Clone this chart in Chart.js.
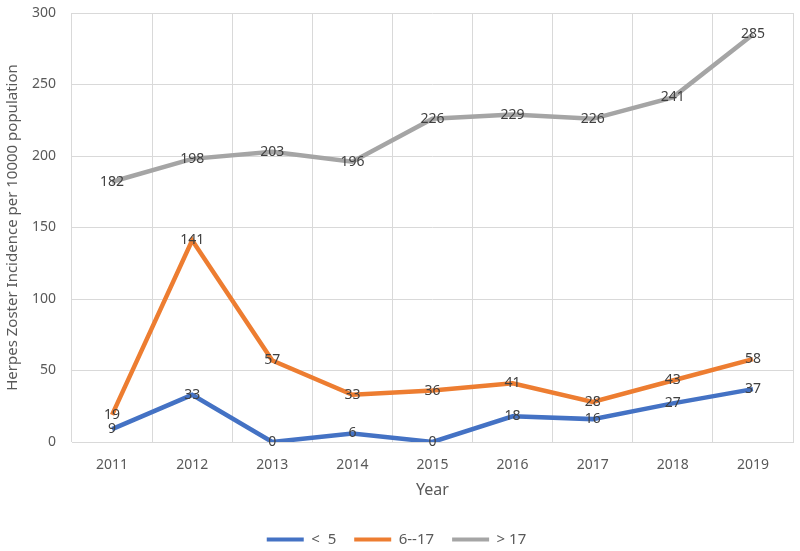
<!DOCTYPE html>
<html><head><meta charset="utf-8">
<script src="https://cdn.jsdelivr.net/npm/chart.js@4"></script>
<style>html,body{margin:0;padding:0;background:#fff}#wrap{width:800px;height:551px}</style>
</head><body><div id="wrap"><canvas id="c" width="800" height="551"></canvas></div>
<script>
const years = ["2011","2012","2013","2014","2015","2016","2017","2018","2019"];
const under5 = [9,33,0,6,0,18,16,27,37];
const age6to17 = [19,141,57,33,36,41,28,43,58];
const over17 = [182,198,203,196,226,229,226,241,285];
const yTicks = [0,50,100,150,200,250,300];

const FONT = "'Noto Sans', sans-serif";
const labelPlugin = {
  id: 'vlabels',
  afterDatasetsDraw(chart) {
    const ctx = chart.ctx;
    ctx.save();
    ctx.font = "14px " + FONT;
    ctx.fillStyle = "#404040";
    ctx.textAlign = "center";
    ctx.textBaseline = "middle";
    chart.data.datasets.forEach((ds, i) => {
      const meta = chart.getDatasetMeta(i);
      meta.data.forEach((pt, j) => {
        ctx.fillText(String(ds.data[j]), pt.x, pt.y);
      });
    });
    ctx.restore();
  }
};

new Chart(document.getElementById('c'), {
  type: 'line',
  data: {
    labels: years,
    datasets: [
      {label: '<  5', data: under5, borderColor: '#4472C4', backgroundColor: '#4472C4', borderWidth: 4.5, pointRadius: 0, tension: 0},
      {label: '6--17', data: age6to17, borderColor: '#ED7D31', backgroundColor: '#ED7D31', borderWidth: 4.5, pointRadius: 0, tension: 0},
      {label: '> 17', data: over17, borderColor: '#A5A5A5', backgroundColor: '#A5A5A5', borderWidth: 4.5, pointRadius: 0, tension: 0}
    ]
  },
  options: {
    responsive: false,
    animation: false,
    devicePixelRatio: 1,
    layout: {padding: {top: 13, right: 7, left: 0, bottom: -6}},
    plugins: {
      legend: {
        position: 'bottom',
        labels: {
          boxWidth: 37, boxHeight: 4, padding: 18, color: '#595959', font: {family: FONT, size: 15},
          generateLabels(chart) {
            return Chart.defaults.plugins.legend.labels.generateLabels(chart).map(l => Object.assign(l, {lineWidth: 0}));
          }
        }
      },
      tooltip: {enabled: false}
    },
    scales: {
      x: {
        offset: true,
        grid: {offset: true, color: '#D9D9D9', lineWidth: 1, drawTicks: false},
        border: {color: '#D9D9D9'},
        ticks: {color: '#595959', font: {family: FONT, size: 14}, padding: 15},
        title: {display: true, text: 'Year', color: '#595959', font: {family: FONT, size: 16}, padding: {top: 2, bottom: 14}},
        afterFit(s) { s.height = 72; }
      },
      y: {
        min: 0, max: 300,
        afterBuildTicks(s) { s.ticks = yTicks.map(v => ({value: v})); },
        grid: {color: '#D9D9D9', lineWidth: 1, drawTicks: true, tickLength: 12, tickColor: 'rgba(0,0,0,0)'},
        border: {display: false},
        ticks: {color: '#595959', font: {family: FONT, size: 14}, padding: 4},
        title: {display: true, text: 'Herpes Zoster Incidence per 10000 population', color: '#595959', font: {family: FONT, size: 15}, padding: {top: 4, bottom: 4}},
        afterFit(s) { s.width = 72; }
      }
    }
  },
  plugins: [labelPlugin]
});
</script>
</body></html>
